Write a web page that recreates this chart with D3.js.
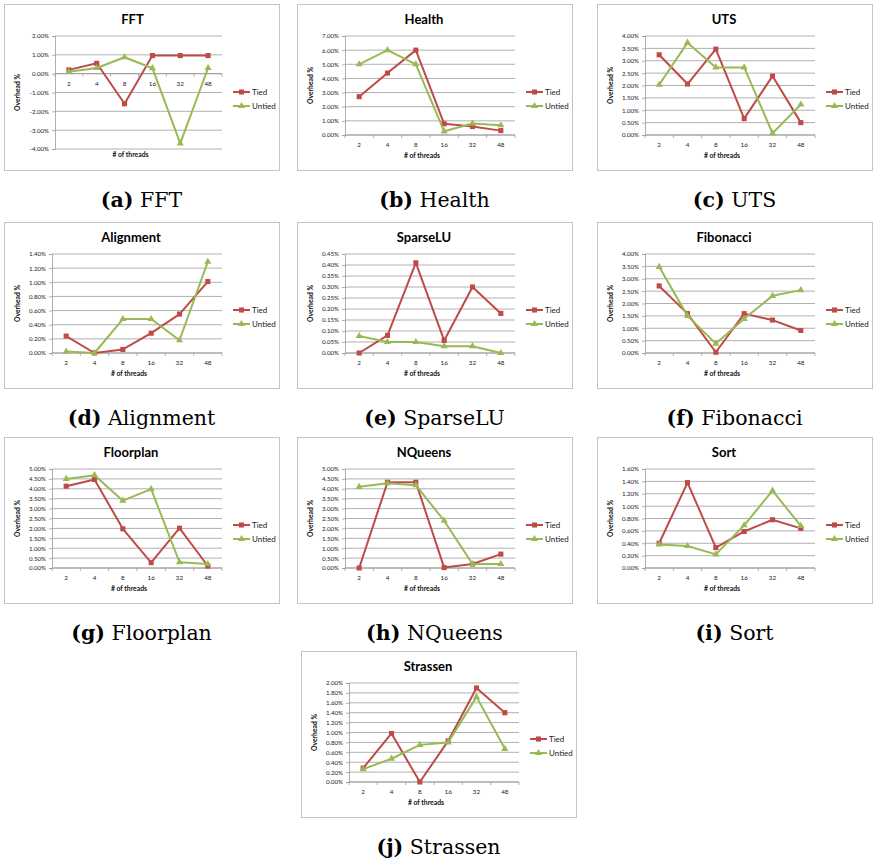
<!DOCTYPE html>
<html><head><meta charset="utf-8">
<script src="https://cdn.jsdelivr.net/npm/d3@7"></script>
<style>body{margin:0;background:#fff} svg{display:block}</style>
</head><body><svg id="c" width="874" height="863"></svg>
<script>
const threads = ["2","4","8","16","32","48"];

const fftTied = [0.2, 0.55, -1.6, 0.96, 0.96, 0.96];
const fftUntied = [0.1, 0.3, 0.87, 0.29, -3.7, 0.3];
const fftTicks = [-4, -3, -2, -1, 0, 1, 2];

const healthTied = [2.71, 4.38, 6.0, 0.79, 0.6, 0.31];
const healthUntied = [5.0, 6.0, 5.0, 0.26, 0.81, 0.69];
const healthTicks = [0, 1, 2, 3, 4, 5, 6, 7];

const utsTied = [3.24, 2.06, 3.47, 0.66, 2.38, 0.5];
const utsUntied = [2.03, 3.73, 2.73, 2.73, 0.07, 1.23];
const utsTicks = [0, 0.5, 1, 1.5, 2, 2.5, 3, 3.5, 4];

const alignTied = [0.24, 0.0, 0.05, 0.28, 0.55, 1.01];
const alignUntied = [0.02, 0.0, 0.48, 0.48, 0.18, 1.29];
const alignTicks = [0, 0.2, 0.4, 0.6, 0.8, 1.0, 1.2, 1.4];

const sparseTied = [0.0, 0.08, 0.41, 0.057, 0.30, 0.18];
const sparseUntied = [0.077, 0.05, 0.05, 0.031, 0.031, 0.0];
const sparseTicks = [0, 0.05, 0.1, 0.15, 0.2, 0.25, 0.3, 0.35, 0.4, 0.45];

const fibTied = [2.71, 1.59, 0.03, 1.59, 1.33, 0.91];
const fibUntied = [3.48, 1.5, 0.38, 1.38, 2.31, 2.54];
const fibTicks = [0, 0.5, 1, 1.5, 2, 2.5, 3, 3.5, 4];

const floorTied = [4.13, 4.47, 1.98, 0.27, 2.01, 0.1];
const floorUntied = [4.5, 4.69, 3.4, 3.98, 0.29, 0.2];
const floorTicks = [0, 0.5, 1, 1.5, 2, 2.5, 3, 3.5, 4, 4.5, 5];

const nqTied = [0.0, 4.33, 4.33, 0.02, 0.2, 0.7];
const nqUntied = [4.1, 4.28, 4.18, 2.39, 0.2, 0.2];
const nqTicks = [0, 0.5, 1, 1.5, 2, 2.5, 3, 3.5, 4, 4.5, 5];

const sortTied = [0.40, 1.38, 0.33, 0.59, 0.78, 0.64];
const sortUntied = [0.38, 0.355, 0.22, 0.69, 1.25, 0.68];
const sortTicks = [0, 0.2, 0.4, 0.6, 0.8, 1.0, 1.2, 1.4, 1.6];

const strTied = [0.28, 0.98, 0.0, 0.83, 1.9, 1.40];
const strUntied = [0.26, 0.47, 0.75, 0.80, 1.72, 0.67];
const strTicks = [0, 0.2, 0.4, 0.6, 0.8, 1.0, 1.2, 1.4, 1.6, 1.8, 2.0];

const seriesNames = ["Tied", "Untied"];
const titles = ["FFT","Health","UTS","Alignment","SparseLU","Fibonacci","Floorplan","NQueens","Sort","Strassen"];
const letters = ["a","b","c","d","e","f","g","h","i","j"];
const xTitle = "# of threads";
const yTitle = "Overhead %";

const tiedAll = [fftTied, healthTied, utsTied, alignTied, sparseTied, fibTied, floorTied, nqTied, sortTied, strTied];
const untiedAll = [fftUntied, healthUntied, utsUntied, alignUntied, sparseUntied, fibUntied, floorUntied, nqUntied, sortUntied, strUntied];
const ticksAll = [fftTicks, healthTicks, utsTicks, alignTicks, sparseTicks, fibTicks, floorTicks, nqTicks, sortTicks, strTicks];

// layout
const pos = [[4,4],[297,4],[597,4],[4,222],[297,222],[597,222],[4,437],[297,437],[597,437],[301,651]];
const W = 275, H = 166;
const RED = "#BE4B48", GREEN = "#98B954", GRID = "#9c9c9c";
const FONT = "Lato, 'Open Sans', sans-serif";

const svg = d3.select("#c");

titles.forEach((t, i) => {
  const [px, py] = pos[i];
  const g = svg.append("g").attr("transform", `translate(${px},${py})`);
  g.append("rect").attr("x",0.5).attr("y",0.5).attr("width",W).attr("height",H)
    .attr("fill","#fff").attr("stroke","#c4c4c4").attr("stroke-width",1);

  const ticks = ticksAll[i];
  const neg = d3.min(ticks) < 0;
  const L = neg ? 51 : 48, R = 218, T = 32, B = neg ? 145 : 131;
  const x = d3.scaleBand().domain(threads).range([L, R]).padding(0);
  const cx = d => x(d) + x.bandwidth()/2;
  const y = d3.scaleLinear().domain(d3.extent(ticks)).range([B, T]);
  const fmt = v => v.toFixed(2) + "%";

  // title
  g.append("text").attr("x", (L+R)/2 - 6).attr("y", 20).attr("text-anchor","middle")
    .attr("font-family",FONT).attr("font-weight","bold")
    .attr("font-size",13).attr("fill","#000").text(t);

  // gridlines
  g.selectAll(".grid").data(ticks).enter().append("line")
    .attr("x1", L).attr("x2", R).attr("y1", d => y(d)).attr("y2", d => y(d))
    .attr("stroke", GRID).attr("stroke-width", 0.8);

  // y axis
  const yAxis = d3.axisLeft(y).tickValues(ticks).tickFormat(fmt).tickSize(3).tickPadding(3);
  const ya = g.append("g").attr("transform", `translate(${L},0)`).call(yAxis);
  ya.select(".domain").attr("stroke", GRID).attr("stroke-width", 0.8);
  ya.selectAll(".tick line").attr("stroke", GRID).attr("stroke-width", 0.8);
  ya.selectAll("text").attr("font-family",FONT).attr("font-size",6.1).attr("fill","#222");

  // x axis at zero
  const y0 = y(0);
  g.append("line").attr("x1", L).attr("x2", R).attr("y1", y0).attr("y2", y0)
    .attr("stroke", GRID).attr("stroke-width", 0.9);
  const bounds = threads.map(d => x(d)).concat([R]);
  g.selectAll(".xt").data(bounds).enter().append("line")
    .attr("x1", d => d).attr("x2", d => d).attr("y1", y0).attr("y2", y0 + 3)
    .attr("stroke", GRID).attr("stroke-width", 0.8);
  g.selectAll(".xl").data(threads).enter().append("text")
    .attr("x", d => cx(d)).attr("y", y0 + 12).attr("text-anchor","middle")
    .attr("font-family",FONT).attr("font-size",6.3).attr("fill","#222")
    .text(d => d);

  // axis titles
  g.append("text").attr("x", (L+R)/2 - 8).attr("y", neg ? 153 : 154).attr("text-anchor","middle")
    .attr("font-family",FONT).attr("font-weight","bold")
    .attr("font-size",6.8).attr("fill","#111").text(xTitle);
  g.append("text").attr("transform", `translate(16,${(T+B)/2}) rotate(-90)`).attr("text-anchor","middle")
    .attr("font-family",FONT).attr("font-weight","bold")
    .attr("font-size",6.8).attr("fill","#111").text(yTitle);

  // lines
  const series = [
    {name: seriesNames[0], vals: tiedAll[i], color: RED, sym: d3.symbolSquare, size: 26},
    {name: seriesNames[1], vals: untiedAll[i], color: GREEN, sym: d3.symbolTriangle, size: 22}
  ];
  const line = d3.line().x((d, k) => cx(threads[k])).y(d => y(d));
  series.forEach(s => {
    g.append("path").attr("d", line(s.vals)).attr("fill","none")
      .attr("stroke", s.color).attr("stroke-width", 2).attr("stroke-linejoin","round");
    g.selectAll(null).data(s.vals).enter().append("path")
      .attr("d", d3.symbol().type(s.sym).size(s.size))
      .attr("transform", (d, k) => `translate(${cx(threads[k])},${y(d)})`)
      .attr("fill", s.color);
  });

  // legend
  series.forEach((s, k) => {
    const ly = 88 + k * 14;
    g.append("line").attr("x1", 229).attr("x2", 246).attr("y1", ly).attr("y2", ly)
      .attr("stroke", s.color).attr("stroke-width", 2);
    g.append("path").attr("d", d3.symbol().type(s.sym).size(s.size))
      .attr("transform", `translate(237.5,${ly})`).attr("fill", s.color);
    g.append("text").attr("x", 248).attr("y", ly + 2.7)
      .attr("font-family",FONT).attr("font-size",8).attr("fill","#222")
      .text(s.name);
  });

  // caption
  const cap = svg.append("text").attr("x", px + W/2).attr("y", py + H + 37)
    .attr("text-anchor","middle").attr("font-family","'DejaVu Serif', serif")
    .attr("font-size", 20.5).attr("fill","#000");
  cap.append("tspan").attr("font-weight","bold").text(`(${letters[i]})`);
  cap.append("tspan").text(" " + t);
});
</script></body></html>
